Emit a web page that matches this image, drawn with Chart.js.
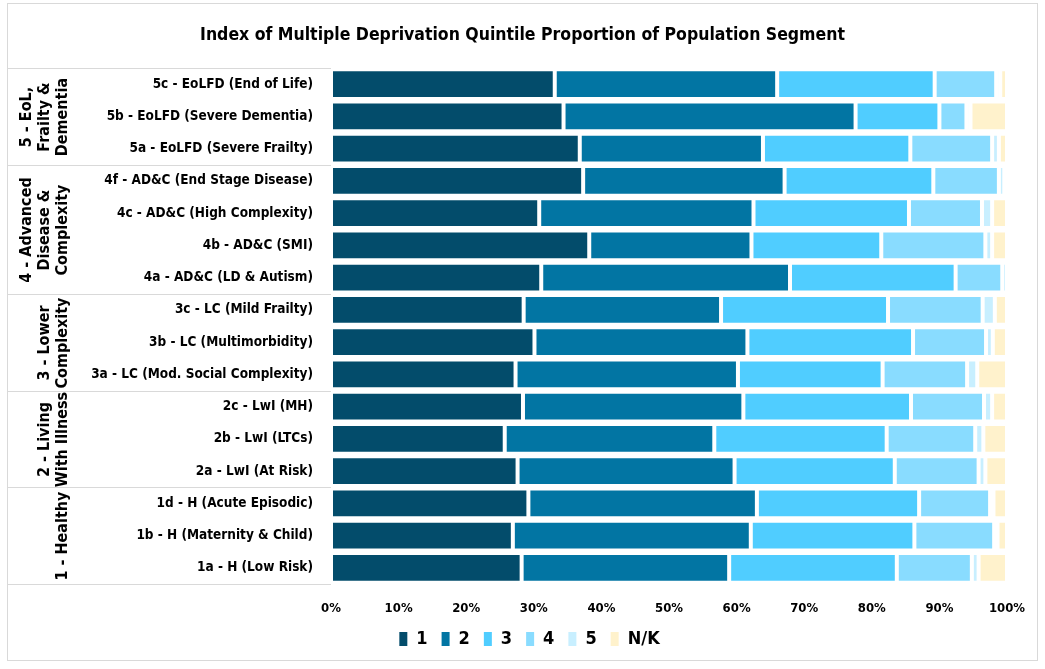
<!DOCTYPE html>
<html>
<head>
<meta charset="utf-8">
<script src="https://cdn.jsdelivr.net/npm/chart.js@4"></script>
<style>
	html, body { margin: 0; padding: 0; background: #fff; }
	#wrap { width: 1045px; height: 669px; }
</style>
</head>
<body>
<div id="wrap"><canvas id="imd-grafica" width="1045" height="669"></canvas></div>
<script>
// --- DATOS --- //
const titulo = 'Index of Multiple Deprivation Quintile Proportion of Population Segment';

const categorias = [
	'5c - EoLFD (End of Life)',
	'5b - EoLFD (Severe Dementia)',
	'5a - EoLFD (Severe Frailty)',
	'4f - AD&C (End Stage Disease)',
	'4c - AD&C (High Complexity)',
	'4b - AD&C (SMI)',
	'4a - AD&C (LD & Autism)',
	'3c - LC (Mild Frailty)',
	'3b - LC (Multimorbidity)',
	'3a - LC (Mod. Social Complexity)',
	'2c - LwI (MH)',
	'2b - LwI (LTCs)',
	'2a - LwI (At Risk)',
	'1d - H (Acute Episodic)',
	'1b - H (Maternity & Child)',
	'1a - H (Low Risk)',
];

const grupos = [
	['5 - EoL,', 'Frailty &', 'Dementia'],
	['4 - Advanced', 'Disease &', 'Complexity'],
	['3 - Lower', 'Complexity'],
	['2 - Living', 'With Illness'],
	['1 - Healthy'],
];
const tamGrupos = [3, 4, 3, 3, 3];

const quintil1 = [33.1, 34.4, 36.8, 37.3, 30.8, 38.2, 31.1, 28.5, 30.1, 27.3, 28.4, 25.7, 27.6, 29.2, 26.9, 28.2];
const quintil2 = [32.9, 43.2, 27.1, 29.8, 31.7, 24.0, 36.8, 29.2, 31.5, 32.9, 32.6, 31.0, 32.1, 33.8, 35.2, 30.7];
const quintil3 = [23.3, 12.4, 21.8, 22.0, 23.0, 19.2, 24.5, 24.7, 24.5, 21.4, 24.8, 25.5, 23.7, 24.0, 24.2, 24.8];
const quintil4 = [9.1, 4.0, 12.1, 9.7, 10.8, 15.4, 6.9, 14.0, 10.8, 12.5, 10.8, 13.1, 12.4, 10.5, 11.8, 11.1];
const quintil5 = [0.6, 0.6, 1.0, 0.8, 1.5, 1.0, 0.7, 1.8, 1.0, 1.5, 1.2, 1.2, 1.0, 0.5, 0.5, 1.0];
const noConocido = [1.0, 5.4, 1.2, 0.4, 2.2, 2.2, 0.0, 1.8, 2.1, 4.4, 2.2, 3.5, 3.2, 2.0, 1.4, 4.2];

const ticksX = [0, 10, 20, 30, 40, 50, 60, 70, 80, 90, 100];

const fuente = "'Liberation Sans Narrow', 'DejaVu Sans Condensed', 'Noto Sans', sans-serif";

(function () {
	const grafica = document.getElementById('imd-grafica');

	// marco, titulo, lineas de grupo y etiquetas de grupo
	const gruposPlugin = {
		id: 'grupos',
		afterLayout(chart) {
			// la leyenda va centrada en todo el lienzo, no en el area de layout
			const leyenda = chart.legend;
			if (leyenda) {
				const centro = (leyenda.left + leyenda.right) / 2;
				const mover = chart.width / 2 + 7 - centro;
				leyenda.left += mover;
				leyenda.right += mover;
			}
		},
		beforeDraw(chart) {
			const ctx = chart.ctx;
			ctx.save();
			ctx.fillStyle = '#fff';
			ctx.fillRect(0, 0, chart.width, chart.height);
			ctx.strokeStyle = '#d9d9d9';
			ctx.lineWidth = 1;
			ctx.strokeRect(7.5, 3.5, 1030, 657);
			ctx.fillStyle = '#000';
			ctx.font = 'bold 17.5px ' + fuente;
			ctx.textAlign = 'center';
			ctx.textBaseline = 'middle';
			ctx.fillText(titulo, chart.width / 2, 35);
			ctx.restore();
		},
		afterDraw(chart) {
			const ctx = chart.ctx;
			const y = chart.scales.y;
			const area = chart.chartArea;
			const paso = (area.bottom - area.top) / categorias.length;
			ctx.save();
			ctx.strokeStyle = '#d9d9d9';
			ctx.lineWidth = 1;
			let inicio = 0;
			const lineaY = (i) => Math.round(y.getPixelForValue(i) - paso / 2) + 0.5;
			ctx.beginPath();
			ctx.moveTo(8, lineaY(0));
			ctx.lineTo(area.left, lineaY(0));
			ctx.stroke();
			grupos.forEach((lineas, g) => {
				const fin = inicio + tamGrupos[g];
				const yTop = lineaY(inicio);
				const yBot = lineaY(fin);
				ctx.beginPath();
				ctx.moveTo(8, yBot);
				ctx.lineTo(area.left, yBot);
				ctx.stroke();

				const yMid = (yTop + yBot) / 2;
				ctx.fillStyle = '#000';
				ctx.font = 'bold 16px ' + fuente;
				ctx.textAlign = 'center';
				ctx.textBaseline = 'middle';
				const n = lineas.length;
				lineas.forEach((t, k) => {
					const x = 63 - (n - 1 - k) * 18;
					ctx.save();
					ctx.translate(x, yMid);
					ctx.rotate(-Math.PI / 2);
					ctx.fillText(t, 0, 0);
					ctx.restore();
				});
				inicio = fin;
			});
			ctx.restore();
		},
	};

	const colores = ['#034C6B', '#0275A3', '#50CDFF', '#89DCFF', '#C8EFFF', '#FFF2CC'];
	const series = [quintil1, quintil2, quintil3, quintil4, quintil5, noConocido];
	const nombres = ['1', '2', '3', '4', '5', 'N/K'];

	new Chart(grafica, {
		type: 'bar',
		data: {
			labels: categorias,
			datasets: series.map((s, i) => ({
				label: nombres[i],
				data: s,
				backgroundColor: colores[i],
				borderColor: '#fff',
				borderWidth: 2,
				borderSkipped: false,
				categoryPercentage: 1,
				barPercentage: 0.93,
			})),
		},
		options: {
			indexAxis: 'y',
			responsive: false,
			animation: false,
			layout: {
				padding: { top: 68, left: 10, right: 38, bottom: 11 },
			},
			scales: {
				x: {
					stacked: true,
					min: 0,
					max: 100,
					grid: { display: false, drawTicks: false },
					border: { display: false },
					afterBuildTicks: (scale) => {
						scale.ticks = ticksX.map((v) => ({ value: v }));
					},
					afterFit: (scale) => {
						scale.height = 32;
					},
					ticks: {
						padding: 17,
						color: '#000',
						font: { family: fuente, size: 13, weight: 'bold' },
						callback: (v) => v + '%',
					},
				},
				y: {
					stacked: true,
					grid: { display: false, drawTicks: false },
					border: { display: false },
					afterFit: (scale) => {
						scale.width = 321;
					},
					ticks: {
						padding: 18,
						autoSkip: false,
						color: '#000',
						font: { family: fuente, size: 13.5, weight: 'bold' },
					},
				},
			},
			plugins: {
				title: { display: false },
				legend: {
					position: 'bottom',
					labels: {
						color: '#000',
						boxWidth: 8,
						boxHeight: 14,
						padding: 14,
						font: { family: fuente, size: 18, weight: 'bold' },
						generateLabels: (chart) =>
							Chart.defaults.plugins.legend.labels.generateLabels(chart).map((l) => ({
								...l,
								lineWidth: 0,
								strokeStyle: 'transparent',
							})),
					},
				},
				tooltip: { enabled: false },
			},
		},
		plugins: [gruposPlugin],
	});
})();
</script>
</body>
</html>
